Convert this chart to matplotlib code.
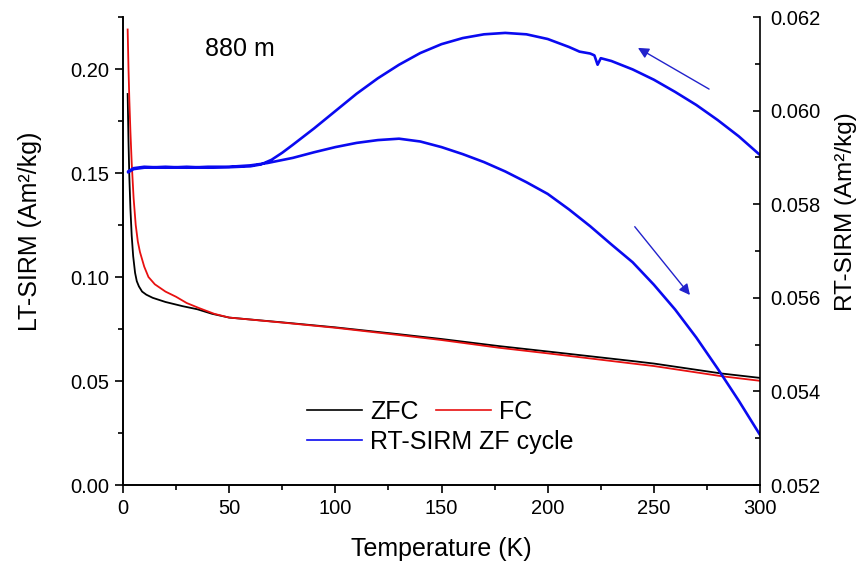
import matplotlib
matplotlib.use("Agg")
import matplotlib.pyplot as plt
from matplotlib.ticker import MultipleLocator, FormatStrFormatter

plt.rcParams["font.family"] = ["Liberation Sans", "DejaVu Sans"]

# LT-SIRM, zero-field cooled (left axis)
zfc_t = [2.2, 2.6, 3.0, 3.5, 4.1, 4.8, 5.7, 6.5, 7.5, 9, 11, 14, 20, 28, 35, 42, 50,
         75, 100, 130, 150, 177, 200, 240, 250, 282, 300]
zfc_m = [0.188, 0.165, 0.148, 0.133, 0.120, 0.110, 0.102, 0.098, 0.0955, 0.093, 0.0915,
         0.0900, 0.0880, 0.0860, 0.0845, 0.0823, 0.0805,
         0.0782, 0.0758, 0.0725, 0.0702, 0.0668, 0.0642, 0.0596, 0.0584, 0.0536, 0.0515]

# LT-SIRM, field cooled (left axis)
fc_t = [2.2, 2.6, 3.0, 3.5, 4.1, 5, 6, 7, 8, 10, 12, 15, 20, 25, 30, 36, 43, 50,
        75, 100, 130, 150, 177, 200, 240, 250, 282, 300]
fc_m = [0.219, 0.200, 0.185, 0.170, 0.155, 0.138, 0.125, 0.117, 0.112, 0.105, 0.100,
        0.0965, 0.0930, 0.0905, 0.0875, 0.0850, 0.0823, 0.0805,
        0.0781, 0.0756, 0.0721, 0.0697, 0.0660, 0.0633, 0.0584, 0.0572, 0.0523, 0.0501]

# RT-SIRM zero-field cycle (right axis): cooling 300 -> 2 K, then warming 2 -> 300 K
cool_t = [300, 290, 280, 270, 260, 250, 240, 230, 225, 223.5, 222, 220, 215, 210,
          200, 190, 180, 170, 160, 150, 140, 130, 120, 110, 100, 90, 80, 75, 70, 65,
          60, 50, 40, 30, 20, 10, 5, 2.4]
cool_m = [0.05905, 0.05945, 0.05980, 0.06012, 0.06040, 0.06066, 0.06088, 0.06106,
          0.06112, 0.06098, 0.06118, 0.06122, 0.06126, 0.06136, 0.06153, 0.06163,
          0.06166, 0.06163, 0.06155, 0.06142, 0.06123, 0.06098, 0.06069, 0.06036,
          0.05999, 0.05962, 0.05927, 0.05910, 0.05895, 0.05885, 0.05881, 0.05879,
          0.05878, 0.05880, 0.05878, 0.05880, 0.05877, 0.05870]
warm_t = [2.4, 5, 10, 20, 30, 40, 50, 60, 68, 80, 90, 100, 110, 120, 130, 140, 150,
          160, 170, 180, 190, 200, 210, 220, 230, 240, 250, 260, 270, 280, 290, 300]
warm_m = [0.05868, 0.05875, 0.05878, 0.05880, 0.05878, 0.05880, 0.05880, 0.05883,
          0.05888, 0.05899, 0.05911, 0.05922, 0.05931, 0.05937, 0.05940, 0.05934,
          0.05922, 0.05907, 0.05890, 0.05870, 0.05847, 0.05822, 0.05789, 0.05753,
          0.05714, 0.05676, 0.05628, 0.05575, 0.05515, 0.05449, 0.05380, 0.05307]

# direction arrows on the RT-SIRM cycle: (tail, head)
arrow_cool = [(276, 0.06046), (242.5, 0.06134)]
arrow_warm = [(241, 0.05752), (267, 0.05606)]

fig = plt.figure(figsize=(8.63, 5.63), dpi=100)
ax = fig.add_axes([0.1425, 0.1385, 0.7382, 0.8313])
ax2 = ax.twinx()

l1, = ax.plot(zfc_t, zfc_m, color="black", lw=1.3, label="ZFC")
l2, = ax.plot(fc_t, fc_m, color="#e81010", lw=1.3, label="FC")
l3, = ax2.plot(cool_t + warm_t, cool_m + warm_m, color="#0a0af0", lw=1.9,
               label="RT-SIRM ZF cycle")

for tail, head in [arrow_cool, arrow_warm]:
    ax2.annotate("", xy=head, xytext=tail,
                 arrowprops=dict(arrowstyle="-|>", color="#2222cc", lw=1.0,
                                 mutation_scale=16, shrinkA=0, shrinkB=0))

ax.set_xlim(0, 300)
ax.set_ylim(0, 0.225)
ax2.set_ylim(0.052, 0.062)

ax.xaxis.set_major_locator(MultipleLocator(50))
ax.xaxis.set_minor_locator(MultipleLocator(25))
ax.yaxis.set_major_locator(MultipleLocator(0.05))
ax.yaxis.set_minor_locator(MultipleLocator(0.025))
ax.yaxis.set_major_formatter(FormatStrFormatter("%.2f"))
ax2.yaxis.set_major_locator(MultipleLocator(0.002))
ax2.yaxis.set_minor_locator(MultipleLocator(0.001))
ax2.yaxis.set_major_formatter(FormatStrFormatter("%.3f"))

for a in (ax, ax2):
    a.spines["top"].set_visible(False)
    for s in a.spines.values():
        s.set_linewidth(1.2)
ax.spines["right"].set_visible(False)

ax.tick_params(which="both", direction="out", width=1.2, labelsize=14.5, pad=4)
ax.tick_params(which="major", length=6)
ax.tick_params(which="minor", length=3.5)
ax2.tick_params(which="both", direction="in", width=1.2, labelsize=14.5, pad=7)
ax2.tick_params(which="major", length=5)
ax2.tick_params(which="minor", length=3.5)

ax.set_xlabel("Temperature (K)", fontsize=18)
ax.set_ylabel("LT-SIRM (Am²/kg)", fontsize=18)
ax2.set_ylabel("RT-SIRM (Am²/kg)", fontsize=17.5)
ax.xaxis.set_label_coords(0.5, -0.11)
ax.yaxis.set_label_coords(-0.127, 0.543)
ax2.yaxis.set_label_coords(1.1177, 0.585)

ax.text(0.1837, 0.932, "880 m", transform=ax.transAxes, fontsize=18,
        ha="center", va="center")

# legend: ZFC and FC on the first row, the cycle on the second
leg_kw = dict(frameon=False, fontsize=18, loc="center left", borderpad=0,
              borderaxespad=0, handlelength=2.2, handletextpad=0.32,
              columnspacing=0.7)
leg1 = ax.legend([l1, l2], ["ZFC", "FC"], ncol=2, bbox_to_anchor=(0.289, 0.156),
                 **leg_kw)
ax.add_artist(leg1)
leg2 = ax.legend([l3], ["RT-SIRM ZF cycle"], bbox_to_anchor=(0.289, 0.092), **leg_kw)
for lg in (leg1, leg2):
    for line in lg.get_lines():
        line.set_linewidth(1.2)

fig.savefig("out.png", dpi=100)
